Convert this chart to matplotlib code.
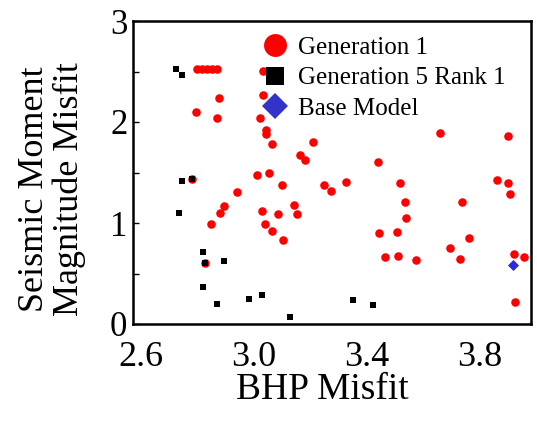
import matplotlib
matplotlib.use('Agg')
import matplotlib.pyplot as plt
from matplotlib.lines import Line2D

plt.rcParams['font.family'] = ['Liberation Serif', 'DejaVu Serif']

# Generation 1 (red dots)
gen1_bhp = [2.798, 2.816, 2.834, 2.851, 2.869, 3.032, 2.876, 2.795, 2.869, 3.032,
            3.021, 3.042, 3.042, 3.064, 3.209, 3.163, 3.181, 3.011, 3.053, 3.439,
            3.658, 3.899, 3.099, 3.248, 3.273, 3.326, 3.517, 2.940, 2.894, 2.880,
            2.848, 3.028, 3.039, 3.085, 3.142, 3.152, 3.064, 3.103, 3.535, 3.538,
            3.442, 3.506, 3.464, 3.510, 3.573, 3.736, 3.761, 3.694, 3.729, 3.860,
            3.899, 3.906, 3.920, 3.956, 3.924, 2.781, 2.827]
gen1_seis = [2.525, 2.525, 2.525, 2.525, 2.525, 2.505, 2.238, 2.099, 2.040, 2.267,
             2.040, 1.921, 1.881, 1.782, 1.802, 1.673, 1.624, 1.475, 1.495, 1.604,
             1.891, 1.861, 1.376, 1.376, 1.317, 1.406, 1.396, 1.307, 1.168, 1.099,
             0.990, 1.119, 0.990, 1.089, 1.178, 1.089, 0.921, 0.832, 1.208, 1.050,
             0.901, 0.911, 0.663, 0.673, 0.634, 1.208, 0.851, 0.752, 0.644, 1.426,
             1.396, 1.287, 0.693, 0.663, 0.218, 1.436, 0.604]

# Generation 5 Rank 1 (black squares)
gen5_bhp = [2.724, 2.745, 2.745, 2.781, 2.734, 2.819, 2.827, 2.894, 2.819, 2.869,
            2.982, 3.028, 3.127, 3.350, 3.421]
gen5_seis = [2.525, 2.465, 1.416, 1.436, 1.099, 0.713, 0.604, 0.624, 0.366, 0.198,
             0.248, 0.287, 0.069, 0.238, 0.188]

# Base model (blue diamond)
base_bhp = [3.917]
base_seis = [0.584]

W, H = 537, 424
fig = plt.figure(figsize=(W / 100, H / 100), dpi=100)
ax = fig.add_axes([133 / W, 1 - 324 / H, 398 / W, 303 / H])

ax.scatter(gen1_bhp, gen1_seis, s=38, color='#ff0000', linewidths=0, zorder=3)
ax.scatter(gen5_bhp, gen5_seis, s=14, marker='s', color='black', linewidths=0, zorder=4)
ax.scatter(base_bhp, base_seis, s=32, marker='D', color='#2a2ae0', linewidths=0, zorder=5)

ax.set_xlim(2.572, 3.981)
ax.set_ylim(0, 3)
ax.set_xticks([2.6, 3.0, 3.4, 3.8])
ax.set_xticklabels(['2.6', '3.0', '3.4', '3.8'])
ax.set_yticks([0, 1, 2, 3])
ax.set_yticks([0.5, 1.5, 2.5], minor=True)
ax.tick_params(axis='x', length=0, pad=12, labelsize=26)
ax.tick_params(axis='y', which='both', direction='in', length=4, width=1, pad=4, labelsize=25)

for sp in ax.spines.values():
    sp.set_linewidth(1.8)

ax.set_xlabel('BHP Misfit', fontsize=27, va='center')
ax.xaxis.set_label_coords(0.475, -0.218)
ax.set_ylabel('Seismic Moment\nMagnitude Misfit', fontsize=26, va='center',
              linespacing=1.05)
ax.yaxis.set_label_coords(-0.2035, 0.4455)

handles = [
    Line2D([], [], ls='', marker='o', color='#ff0000', markersize=16.5, markeredgewidth=0),
    Line2D([], [], ls='', marker='s', color='black', markersize=13.5, markeredgewidth=0),
    Line2D([], [], ls='', marker='D', color='#3333cc', markersize=13, markeredgewidth=0),
]
labels = ['Generation 1', 'Generation 5 Rank 1', 'Base Model']
ax.legend(handles, labels, loc='upper left', bbox_to_anchor=(0.325, 0.95),
          frameon=False, fontsize=18, borderpad=0, handlelength=1.0,
          handletextpad=0.42, labelspacing=0.33, borderaxespad=0)

fig.savefig('out.png', dpi=100)
